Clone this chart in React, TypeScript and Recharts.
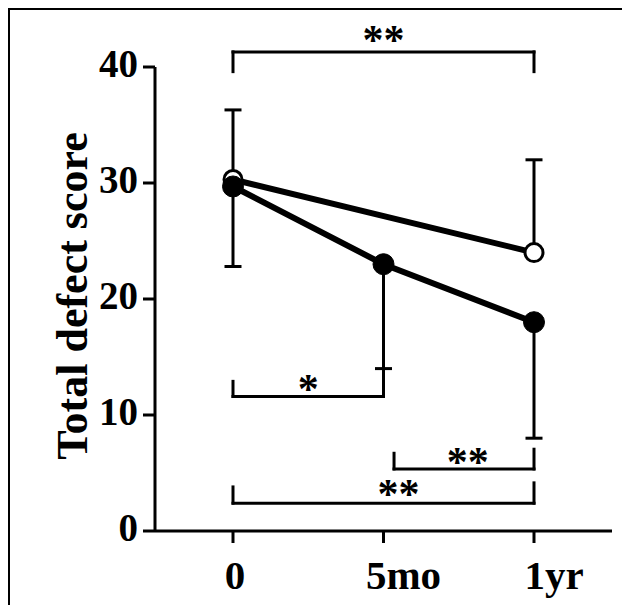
import { LineChart, Line, XAxis, YAxis, ErrorBar, ReferenceLine, ReferenceDot } from "recharts";

const FONT = "'Liberation Serif', 'Times New Roman', serif";

const categories = ["0", "5mo", "1yr"];
const timePoints = [0, 1, 2];
const yTicks = [0, 10, 20, 30, 40];

// open circles
const openMeans = [30.3, null, 24.0];
const openErrUp = [6.0, null, 8.0];

// filled circles
const filledMeans = [29.7, 23.0, 18.0];
const filledErrDown = [6.9, 9.0, 10.0];

// significance brackets: from x1 to x2 at level y, ends reach yL / yR
const brackets = [
  { x1: 0, x2: 2, y: 41.3, yL: 39.6, yR: 39.6 },
  { x1: 0, x2: 1, y: 11.6, yL: 12.9, yR: 13.8 },
  { x1: 1.07, x2: 2, y: 5.35, yL: 6.7, yR: 7.05 },
  { x1: 0, x2: 2, y: 2.4, yL: 3.8, yR: 4.15 },
];
const stars = [
  { x: 1.0, y: 42.4, text: "**" },
  { x: 0.5, y: 12.3, text: "*" },
  { x: 1.56, y: 6.0, text: "**" },
  { x: 1.1, y: 3.25, text: "**" },
];

// the printed x labels sit a little right of their ticks
const xLabelShift: Record<string, number> = { "0": 2, "5mo": 20, "1yr": 20 };

const data = timePoints.map((t, i) => ({
  t,
  open: openMeans[i],
  openErr: openErrUp[i] == null ? null : [0, openErrUp[i]],
  filled: filledMeans[i],
  filledErr: [filledErrDown[i], 0],
}));

const XTick = ({ x, y, payload }: any) => {
  const label = categories[payload.value];
  return (
    <text x={x + (xLabelShift[label] ?? 0)} y={y + 28} textAnchor="middle" fontFamily={FONT} fontWeight="bold" fontSize={41} fill="#000">
      {label}
    </text>
  );
};

const YTick = ({ x, y, payload }: any) => (
  <text x={x} y={y - 4} textAnchor="end" dominantBaseline="central" fontFamily={FONT} fontWeight="bold" fontSize={39} fill="#000">
    {payload.value}
  </text>
);

const YLabel = ({ viewBox }: any) => {
  const cx = viewBox.x + 62;
  const cy = viewBox.y + viewBox.height / 2 - 3;
  return (
    <text x={cx} y={cy} transform={`rotate(-90 ${cx} ${cy})`} textAnchor="middle" dominantBaseline="central" fontFamily={FONT} fontWeight="bold" fontSize={44} fill="#000">
      Total defect score
    </text>
  );
};

const line = { stroke: "#000", strokeWidth: 3, strokeLinecap: "square" as const, ifOverflow: "visible" as const };

export default function App() {
  return (
    <div style={{ width: 622, height: 605, position: "relative", overflow: "hidden", background: "#fff" }}>
      <style>{"body{margin:0}"}</style>
      <div
        style={{
          position: "absolute",
          left: 8,
          top: 8,
          width: 614,
          height: 597,
          boxSizing: "border-box",
          borderTop: "2px solid #000",
          borderLeft: "2px solid #000",
        }}
      >
        <div style={{ width: 602, height: 595, overflow: "hidden" }}>
          <LineChart width={610} height={595} data={data} margin={{ top: 57, right: 8, bottom: 0, left: 0 }}>
            <XAxis
              dataKey="t"
              type="number"
              domain={[0, 2]}
              ticks={timePoints}
              padding={{ left: 78, right: 78 }}
              height={74}
              tickSize={12}
              tickMargin={18}
              axisLine={{ stroke: "#000", strokeWidth: 3 }}
              tickLine={{ stroke: "#000", strokeWidth: 3 }}
              tick={<XTick />}
            />
            <YAxis
              type="number"
              domain={[0, 40]}
              ticks={yTicks}
              width={145}
              tickSize={12}
              tickMargin={5}
              axisLine={{ stroke: "#000", strokeWidth: 3 }}
              tickLine={{ stroke: "#000", strokeWidth: 3 }}
              tick={<YTick />}
              label={<YLabel />}
            />
            {brackets.map((b, i) => [
              <ReferenceLine key={`h${i}`} segment={[{ x: b.x1, y: b.y }, { x: b.x2, y: b.y }]} {...line} />,
              <ReferenceLine key={`l${i}`} segment={[{ x: b.x1, y: b.y }, { x: b.x1, y: b.yL }]} {...line} />,
              <ReferenceLine key={`r${i}`} segment={[{ x: b.x2, y: b.y }, { x: b.x2, y: b.yR }]} {...line} />,
            ])}
            {stars.map((s, i) => (
              <ReferenceDot
                key={`s${i}`}
                x={s.x}
                y={s.y}
                r={0}
                fill="none"
                stroke="none"
                ifOverflow="visible"
                label={{ value: s.text, position: "center", fontFamily: FONT, fontWeight: "bold", fontSize: 42, fill: "#000" }}
              />
            ))}
            <Line
              dataKey="open"
              stroke="#000"
              strokeWidth={6}
              connectNulls
              isAnimationActive={false}
              activeDot={false}
              dot={{ r: 9, fill: "#fff", stroke: "#000", strokeWidth: 3 }}
            >
              <ErrorBar dataKey="openErr" direction="y" width={8.5} stroke="#000" strokeWidth={3} />
            </Line>
            <Line
              dataKey="filled"
              stroke="#000"
              strokeWidth={6}
              isAnimationActive={false}
              activeDot={false}
              dot={{ r: 10.5, fill: "#000", stroke: "#000", strokeWidth: 1 }}
            >
              <ErrorBar dataKey="filledErr" direction="y" width={8.5} stroke="#000" strokeWidth={3} />
            </Line>
          </LineChart>
        </div>
      </div>
    </div>
  );
}
